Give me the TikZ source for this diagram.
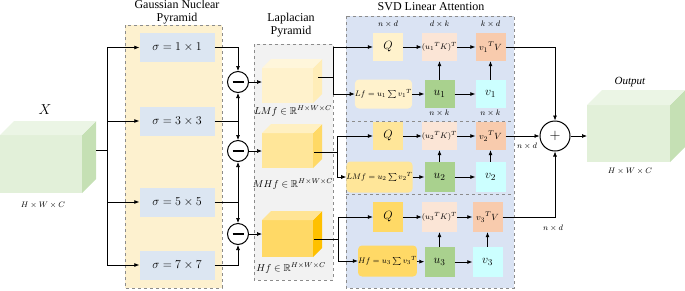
\documentclass[tikz,border=0pt]{standalone}
\usepackage{fontspec}
\setmainfont{Liberation Serif}
\usepackage{amssymb}
\usetikzlibrary{arrows.meta,positioning}

\definecolor{gaussPanel}{HTML}{FDF1CF}
\definecolor{gaussBlue}{HTML}{DCE6F2}
\definecolor{lapPanel}{HTML}{F2F2F2}
\definecolor{svdPanel}{HTML}{DAE3F3}
\definecolor{qLight}{HTML}{FFF2CC}
\definecolor{qMid}{HTML}{FFE699}
\definecolor{qDark}{HTML}{FFD966}
\definecolor{qGold}{HTML}{FFC000}
\definecolor{ktFill}{HTML}{FBE5D6}
\definecolor{vtFill}{HTML}{F8CBAD}
\definecolor{uFill}{HTML}{A9D18E}
\definecolor{vFill}{HTML}{CCFFFF}
\definecolor{greenFront}{HTML}{E2F0D9}
\definecolor{greenSide}{HTML}{C5E0B4}
\definecolor{greenTop}{HTML}{EBF5E5}

\tikzset{
  wire/.style={line width=0.7pt},
  flow/.style={wire, -{Latex[length=5pt,width=4pt]}},
  panel/.style={draw=black!45, dashed, line width=0.5pt},
  title/.style={align=center, font=\fontsize{12}{13.5}\selectfont, inner sep=0pt},
  gbox/.style={fill=gaussBlue, minimum width=75pt, minimum height=29pt, inner sep=0pt, font=\fontsize{12.5}{14}\selectfont},
  sbox/.style={minimum width=30pt, minimum height=28pt, inner sep=0pt},
  factbox/.style={rounded corners=4pt, minimum height=29pt, inner sep=0pt, font=\fontsize{8}{9}\selectfont},
  opcirc/.style={circle, draw, line width=1pt, inner sep=0pt},
  dimlbl/.style={font=\fontsize{8}{9}\selectfont, inner sep=1pt},
  laplbl/.style={font=\fontsize{10}{11}\selectfont, inner sep=0pt},
  cubeface/.style={inner sep=0pt, outer sep=0pt},
}

\begin{document}
\begin{tikzpicture}[x=1pt, y=-1pt]
% cube: name, centre of front face, width, height, front, side, top colour, depth
\providecommand{\drawCube}[8]{%
  \node[cubeface, fill=#5, minimum width=#3, minimum height=#4] (#1) at (#2) {};
  \fill[#6] (#1.north east) -- ([shift={(#8,-#8)}]#1.north east) -- ([shift={(#8,-#8)}]#1.south east) -- (#1.south east) -- cycle;
  \fill[#7] (#1.north west) -- ([shift={(#8,-#8)}]#1.north west) -- ([shift={(#8,-#8)}]#1.north east) -- (#1.north east) -- cycle;
}
\useasboundingbox (0,0) rectangle (685,290);

% Panels
\path[panel, fill=gaussPanel] (125,25) rectangle (222,288);
\path[panel, fill=lapPanel] (254,44) rectangle (333,280);
\path[panel, fill=svdPanel] (346,16) rectangle (514,288);
\draw[panel] (346,121) -- (514,121);
\draw[panel] (346,194) -- (514,194);
\node[title] (gaussTitle) at (177,12) {Gaussian Nuclear\\Pyramid};
\node[title] (lapTitle) at (291,25) {Laplacian\\Pyramid};
\node[title] (svdTitle) at (431,7) {SVD Linear Attention};

% Input
\drawCube{inCube}{41,164}{82pt}{58pt}{greenFront}{greenSide}{greenTop}{14}
\node[font=\fontsize{14}{14}\selectfont] (inLbl) at (45,110) {$X$};
\node[dimlbl, font=\fontsize{8.5}{9}\selectfont] (inDim) at (43,205) {$H\times W\times C$};

% Gaussian kernels
\node[gbox] (gauss1) at (177,47.5) {$\sigma = 1\times 1$};
\node[gbox] (gauss2) at (177,121) {$\sigma = 3\times 3$};
\node[gbox] (gauss3) at (177,202) {$\sigma = 5\times 5$};
\node[gbox] (gauss4) at (177,265) {$\sigma = 7\times 7$};

\coordinate (inOut) at (96,150);
\coordinate (trunk) at (107,150);
\draw[wire] (inOut) -- (trunk);
\draw[wire] (trunk |- gauss1) -- (trunk |- gauss4);
\draw[flow] (trunk |- gauss1) -- (gauss1);
\draw[flow] (trunk |- gauss2) -- (gauss2);
\draw[flow] (trunk |- gauss3) -- (gauss3);
\draw[flow] (trunk |- gauss4) -- (gauss4);

% Differences
\node[opcirc, minimum size=21pt] (minus1) at (238,82) {};
\node[opcirc, minimum size=21pt] (minus2) at (238,151) {};
\node[opcirc, minimum size=21pt] (minus3) at (238,234) {};
\draw[line width=1.5pt] ([xshift=-5.5pt]minus1.center) -- ([xshift=5.5pt]minus1.center);
\draw[line width=1.5pt] ([xshift=-5.5pt]minus2.center) -- ([xshift=5.5pt]minus2.center);
\draw[line width=1.5pt] ([xshift=-5.5pt]minus3.center) -- ([xshift=5.5pt]minus3.center);

\draw[flow] (gauss1) -| (minus1);
\draw[wire] (gauss2) -- (gauss2 -| minus1);
\draw[flow] (gauss2 -| minus1) -- (minus1);
\draw[flow] (gauss2 -| minus1) -- (minus2);
\draw[wire] (gauss3) -- (gauss3 -| minus2);
\draw[flow] (gauss3 -| minus2) -- (minus2);
\draw[flow] (gauss3 -| minus2) -- (minus3);
\draw[flow] (gauss4) -| (minus3);

% Laplacian pyramid
\drawCube{lap1}{287.5,85.5}{51pt}{35pt}{qLight}{qMid!70}{qLight!70}{9}
\drawCube{lap2}{287.5,150.5}{51pt}{35pt}{qMid}{qDark}{qMid!60}{9}
\drawCube{lap3}{287.5,238.5}{51pt}{37pt}{qDark}{qGold}{qDark!70}{9}
\node[laplbl] (lapLbl1) at (293,111) {$LMf\in\mathbb{R}^{H\times W\times C}$};
\node[laplbl] (lapLbl2) at (293,184) {$MHf\in\mathbb{R}^{H\times W\times C}$};
\node[laplbl] (lapLbl3) at (291,268) {$Hf\in\mathbb{R}^{H\times W\times C}$};

\draw[flow] (minus1) -- (minus1 -| lap1.west);
\draw[flow] (minus2) -- (minus2 -| lap2.west);
\draw[flow] (minus3) -- (minus3 -| lap3.west);

% SVD linear attention, branch 1
\node[sbox, fill=qLight, font=\fontsize{12}{12}\selectfont] (q1) at (388,47) {$Q$};
\node[sbox, fill=ktFill, font=\fontsize{8}{8}\selectfont] (kt1) at (439.5,47) {$(u_1{}^TK)^T$};
\node[sbox, fill=vtFill, font=\fontsize{9.5}{10}\selectfont] (vt1) at (490.5,47) {$v_1{}^TV$};
\node[factbox, fill=qLight, minimum width=51pt] (fact1) at (383.5,94) {$Lf = u_1\sum v_1{}^T$};
\node[sbox, fill=uFill, font=\fontsize{13}{13}\selectfont] (u1) at (439.5,94) {$u_1$};
\node[sbox, fill=vFill, font=\fontsize{13}{13}\selectfont] (v1) at (490.5,94) {$v_1$};
\node[dimlbl, above=4pt of q1] (dimQ) {$n\times d$};
\node[dimlbl, above=4pt of kt1] (dimK) {$d\times k$};
\node[dimlbl, above=4pt of vt1] (dimV) {$k\times d$};
\node[dimlbl, below=1pt of u1] (dimU) {$n\times k$};
\node[dimlbl, below=1pt of v1] (dimVv) {$n\times k$};

% branch 2
\node[sbox, fill=qMid, font=\fontsize{12}{12}\selectfont] (q2) at (388,136) {$Q$};
\node[sbox, fill=ktFill, font=\fontsize{8}{8}\selectfont] (kt2) at (439.5,136) {$(u_2{}^TK)^T$};
\node[sbox, fill=vtFill, font=\fontsize{9.5}{10}\selectfont] (vt2) at (490.5,136) {$v_2{}^TV$};
\node[factbox, fill=qMid, minimum width=59pt, minimum height=31pt] (fact2) at (379.5,177) {$LMf = u_2\sum v_2{}^T$};
\node[sbox, fill=uFill, minimum height=30pt, font=\fontsize{13}{13}\selectfont] (u2) at (439.5,177) {$u_2$};
\node[sbox, fill=vFill, minimum height=30pt, font=\fontsize{13}{13}\selectfont] (v2) at (490.5,177) {$v_2$};

% branch 3
\node[sbox, fill=qDark, minimum height=30pt, font=\fontsize{12}{12}\selectfont] (q3) at (388,217) {$Q$};
\node[sbox, fill=ktFill, minimum height=30pt, font=\fontsize{8}{8}\selectfont] (kt3) at (439.5,217) {$(u_3{}^TK)^T$};
\node[sbox, fill=vtFill, minimum height=30pt, font=\fontsize{9.5}{10}\selectfont] (vt3) at (487.5,217) {$v_3{}^TV$};
\node[factbox, fill=qDark, minimum width=51pt, minimum height=31pt] (fact3) at (387.5,261) {$Hf = u_3\sum v_3{}^T$};
\node[sbox, fill=uFill, minimum height=30pt, font=\fontsize{13}{13}\selectfont] (u3) at (439.5,262) {$u_3$};
\node[sbox, fill=vFill, minimum height=30pt, font=\fontsize{13}{13}\selectfont] (v3) at (487.5,262) {$v_3$};

% Laplacian levels into the branches
\coordinate (lapOut1) at (318,77);
\coordinate (split1) at (333,77);
\coordinate (lapOut2) at (314,152);
\coordinate (split2) at (337,152);
\coordinate (lapOut3) at (314,239);
\coordinate (split3) at (338,239);
\draw[wire] (lapOut1) -- (split1);
\draw[flow] (split1) |- (q1);
\draw[flow] (split1) |- (fact1);
\draw[wire] (lapOut2) -- (split2);
\draw[flow] (split2) |- (q2);
\draw[flow] (split2) |- (fact2);
\draw[wire] (lapOut3) -- (split3);
\draw[flow] (split3) |- (q3);
\draw[flow] (split3) |- (fact3);

% Inside the branches
\draw[flow] (q1) -- (kt1);
\draw[flow] (kt1) -- (vt1);
\draw[flow] (fact1) -- (u1);
\draw[flow] (u1) -- (v1);
\draw[flow] (u1) -- (kt1);
\draw[flow] (v1) -- (vt1);
\draw[flow] (q2) -- (kt2);
\draw[flow] (kt2) -- (vt2);
\draw[flow] (fact2) -- (u2);
\draw[flow] (u2) -- (v2);
\draw[flow] (u2) -- (kt2);
\draw[flow] (v2) -- (vt2);
\draw[flow] (q3) -- (kt3);
\draw[flow] (kt3) -- (vt3);
\draw[flow] (fact3) -- (u3);
\draw[flow] (u3) -- (v3);
\draw[flow] (u3) -- (kt3);
\draw[flow] (v3) -- (vt3);

% Sum and output
\node[opcirc, minimum size=30pt, font=\fontsize{15}{15}\selectfont] (plusNode) at (555,136) {$+$};
\draw[flow] (vt1) -| (plusNode);
\draw[flow] (vt2) -- (plusNode);
\draw[flow] (vt3) -| (plusNode);
\node[dimlbl] (dimOut2) at (527,146) {$n\times d$};
\node[dimlbl] (dimOut3) at (553,228) {$n\times d$};

\drawCube{outCube}{628.5,133.5}{83pt}{57pt}{greenFront}{greenSide}{greenTop}{15}
\draw[flow] (plusNode) -- (plusNode -| outCube.west);
\node[font=\fontsize{11}{11}\selectfont\itshape, inner sep=0pt] (outLbl) at (630,82) {Output};
\node[dimlbl, font=\fontsize{8.5}{9}\selectfont] (outDim) at (630,171) {$H\times W\times C$};
\end{tikzpicture}
\end{document}
